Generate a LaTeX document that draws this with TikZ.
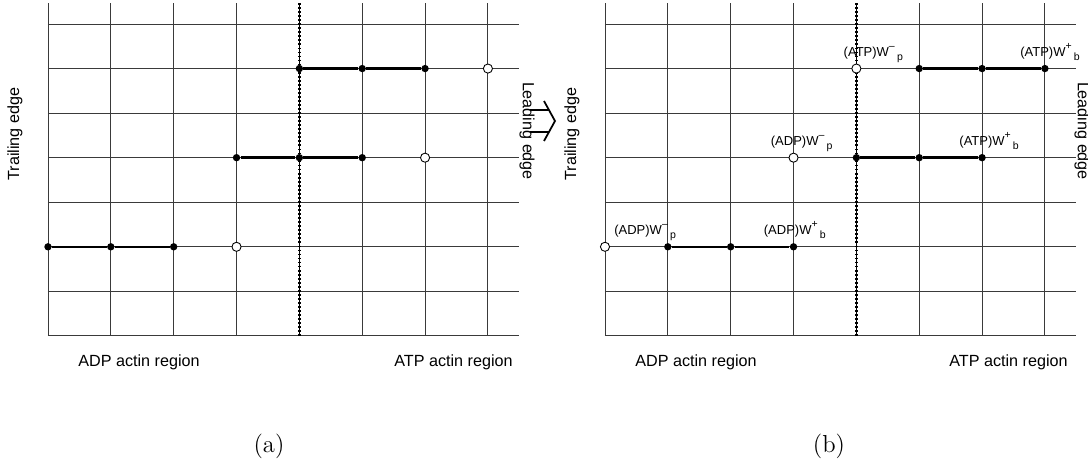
\documentclass[tikz,border=0pt]{standalone}
\usepackage{fontspec}
\usepackage{tikz}
\usetikzlibrary{calc}
\newfontfamily\arialfont{Liberation Sans}
\definecolor{gridcol}{HTML}{3A3A3A}
\newcommand{\actinw}[3]{(#1)W\raisebox{1.05ex}{\fontsize{6}{6}\selectfont #2}\,\raisebox{-0.55ex}{\fontsize{6}{6}\selectfont #3}}

\begin{document}
\begin{tikzpicture}[x=0.02cm, y=-0.02cm,
  gridline/.style={draw=gridcol, line width=0.5pt},
  front/.style={line width=1.5pt, dash pattern=on 1pt off 1.3pt},
  fil/.style={circle, fill=black, inner sep=0pt, minimum size=4.2pt},
  hol/.style={circle, draw=black, fill=white, line width=0.5pt,
              inner sep=0pt, minimum size=5.2pt},
  seg/.style={line width=1.4pt},
  lab/.style={font=\arialfont\fontsize{9.2}{11}\selectfont, inner sep=0pt},
  wlab/.style={font=\arialfont\fontsize{7.4}{9}\selectfont, inner sep=0pt,
               anchor=base west},
  panelcap/.style={font=\fontsize{14}{16}\selectfont, inner sep=0pt, anchor=base},
]
  \useasboundingbox (0,0) rectangle (1088,463);

  % panel (a)
  \begin{scope}[shift={(0.96cm,-0.48cm)}, x=1.25714cm, y=-0.8914cm]
    \foreach \i in {0,...,7}
      \draw[gridline] (\i,-0.47) -- (\i,7);
    \foreach \j in {0,...,7}
      \draw[gridline] (0,\j) -- (7.49,\j);
    \draw[line width=0.5pt] (4,-0.47) -- (4,7);
    \draw[front] (4,-0.47) -- (4,7);
    \node[fil] (a14) at (4,1) {};
    \node[fil] (a15) at (5,1) {};
    \node[fil] (a16) at (6,1) {};
    \node[hol] (a17) at (7,1) {};
    \node[fil] (a33) at (3,3) {};
    \node[fil] (a34) at (4,3) {};
    \node[fil] (a35) at (5,3) {};
    \node[hol] (a36) at (6,3) {};
    \node[fil] (a50) at (0,5) {};
    \node[fil] (a51) at (1,5) {};
    \node[fil] (a52) at (2,5) {};
    \node[hol] (a53) at (3,5) {};
    \draw[seg] (a14) -- (a15) -- (a16);
    \draw[seg] (a33) -- (a34) -- (a35);
    \draw[seg] (a50) -- (a51) -- (a52);
  \end{scope}
  \node[lab, rotate=90] (a-trail) at (15,134) {Trailing edge};
  \node[lab, rotate=-90] (a-lead) at (527,131) {Leading edge};
  \draw[line width=1pt] (530,110) -- (549,110);
  \draw[line width=1pt] (530,132) -- (549,132);
  \draw[line width=1pt] (544,101) -- (555,121) -- (544,141);
  \node[lab, anchor=base west] (a-adp) at (78,366) {ADP actin region};
  \node[lab, anchor=base west] (a-atp) at (394,366) {ATP actin region};
  \node[panelcap] (a-cap) at (269,452) {(a)};

  % panel (b)
  \begin{scope}[shift={(557,0)}]
  \begin{scope}[shift={(0.96cm,-0.48cm)}, x=1.25714cm, y=-0.8914cm]
    \foreach \i in {0,...,7}
      \draw[gridline] (\i,-0.47) -- (\i,7);
    \foreach \j in {0,...,7}
      \draw[gridline] (0,\j) -- (7.49,\j);
    \draw[line width=0.5pt] (4,-0.47) -- (4,7);
    \draw[front] (4,-0.47) -- (4,7);
    \node[hol] (b14) at (4,1) {};
    \node[fil] (b15) at (5,1) {};
    \node[fil] (b16) at (6,1) {};
    \node[fil] (b17) at (7,1) {};
    \node[hol] (b33) at (3,3) {};
    \node[fil] (b34) at (4,3) {};
    \node[fil] (b35) at (5,3) {};
    \node[fil] (b36) at (6,3) {};
    \node[hol] (b50) at (0,5) {};
    \node[fil] (b51) at (1,5) {};
    \node[fil] (b52) at (2,5) {};
    \node[fil] (b53) at (3,5) {};
    \draw[seg] (b15) -- (b16) -- (b17);
    \draw[seg] (b34) -- (b35) -- (b36);
    \draw[seg] (b51) -- (b52) -- (b53);
  \end{scope}
  \node[wlab] (w14) at ($(b14)+(-13,-12)$) {\actinw{ATP}{\textendash}{p}};
  \node[wlab] (w17) at ($(b17)+(-25,-12)$) {\actinw{ATP}{+}{b}};
  \node[wlab] (w33) at ($(b33)+(-23,-12)$) {\actinw{ADP}{\textendash}{p}};
  \node[wlab] (w36) at ($(b36)+(-23,-12)$) {\actinw{ATP}{+}{b}};
  \node[wlab] (w50) at ($(b50)+(9,-12)$) {\actinw{ADP}{\textendash}{p}};
  \node[wlab] (w53) at ($(b53)+(-30,-12)$) {\actinw{ADP}{+}{b}};
  \node[lab, rotate=90] (b-trail) at (15,134) {Trailing edge};
  \node[lab, rotate=-90] (b-lead) at (525,131) {Leading edge};
  \node[lab, anchor=base west] (b-adp) at (78,366) {ADP actin region};
  \node[lab, anchor=base west] (b-atp) at (392,366) {ATP actin region};
  \node[panelcap] (b-cap) at (272,452) {(b)};
  \end{scope}
\end{tikzpicture}
\end{document}
